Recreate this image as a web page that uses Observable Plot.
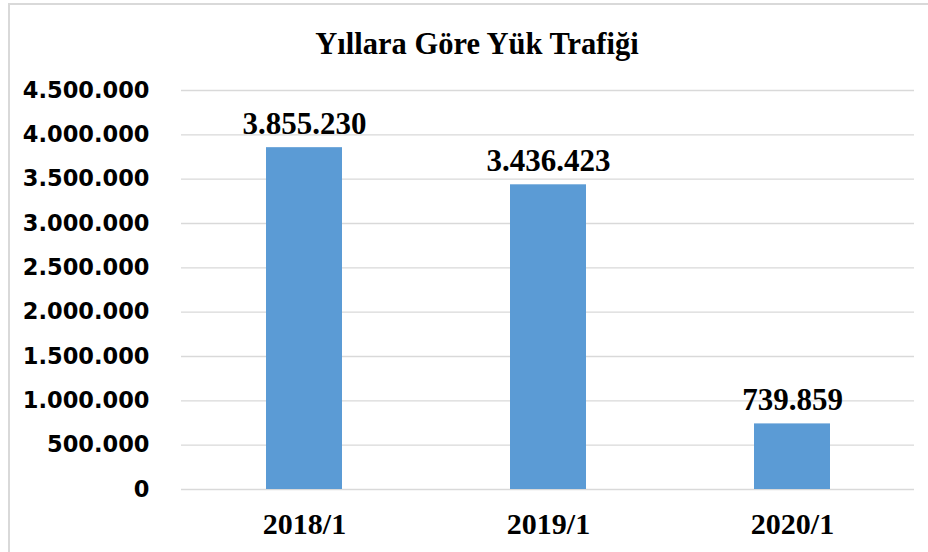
<!DOCTYPE html>
<html>
<head>
<meta charset="utf-8">
<script src="https://cdn.jsdelivr.net/npm/d3@7"></script>
<script src="https://cdn.jsdelivr.net/npm/@observablehq/plot@0.6"></script>
<style>
  html, body { margin: 0; padding: 0; background: #fff; }
  #wrap { position: relative; width: 928px; height: 552px; overflow: hidden; }
  #frame { position: absolute; left: 8px; top: 3px; width: 1000px; height: 600px;
           border-left: 2px solid #d9d9d9; border-top: 2px solid #d9d9d9; box-sizing: border-box; }
  #title { position: absolute; left: 0; top: 29px; width: 954px; text-align: center;
           font-family: "Liberation Serif", "Times New Roman", serif; font-weight: bold;
           font-size: 30.5px; line-height: 30px; color: #000; }
  #chart { position: absolute; left: 0; top: 0; }
</style>
</head>
<body>
<div id="wrap">
  <div id="frame"></div>
  <div id="title"></div>
  <div id="chart"></div>
</div>
<script>
const titleText = "Yıllara Göre Yük Trafiği";
const categories = ["2018/1", "2019/1", "2020/1"];
const values = [3855230, 3436423, 739859];
const yTicks = [0, 500000, 1000000, 1500000, 2000000, 2500000, 3000000, 3500000, 4000000, 4500000];

const fmt = d3.formatLocale({thousands: ".", decimal: ",", grouping: [3], currency: ["", ""]}).format(",d");
const data = categories.map((c, i) => ({cat: c, value: values[i]}));

document.getElementById("title").textContent = titleText;

const serif = "'Liberation Serif', 'Times New Roman', serif";

const chart = Plot.plot({
  width: 928,
  height: 552,
  marginTop: 90,
  marginBottom: 63,
  marginLeft: 181,
  marginRight: 14,
  style: {background: "transparent", color: "#000", overflow: "visible"},
  x: {domain: categories, padding: 0, label: null},
  y: {domain: [0, 4500000], label: null},
  marks: [
    Plot.ruleY(yTicks, {stroke: "#d9d9d9", strokeWidth: 1.3}),
    Plot.barY(data, {x: "cat", y: "value", fill: "#5b9bd5", insetLeft: 84, insetRight: 84}),
    Plot.text(data, {x: "cat", y: "value", text: d => fmt(d.value), dy: -14, lineAnchor: "bottom",
      fontFamily: serif, fontWeight: "bold", fontSize: 31, fill: "#000"}),
    Plot.axisY({ticks: yTicks, tickSize: 0, tickPadding: 32, tickFormat: fmt, label: null,
      fontFamily: "'DejaVu Sans', Verdana, sans-serif", fontWeight: "bold", fontSize: 22.5, fill: "#000"}),
    Plot.axisX({tickSize: 0, tickPadding: 23, label: null,
      fontFamily: serif, fontWeight: "bold", fontSize: 30, fill: "#000"})
  ]
});
document.getElementById("chart").appendChild(chart);
</script>
</body>
</html>
